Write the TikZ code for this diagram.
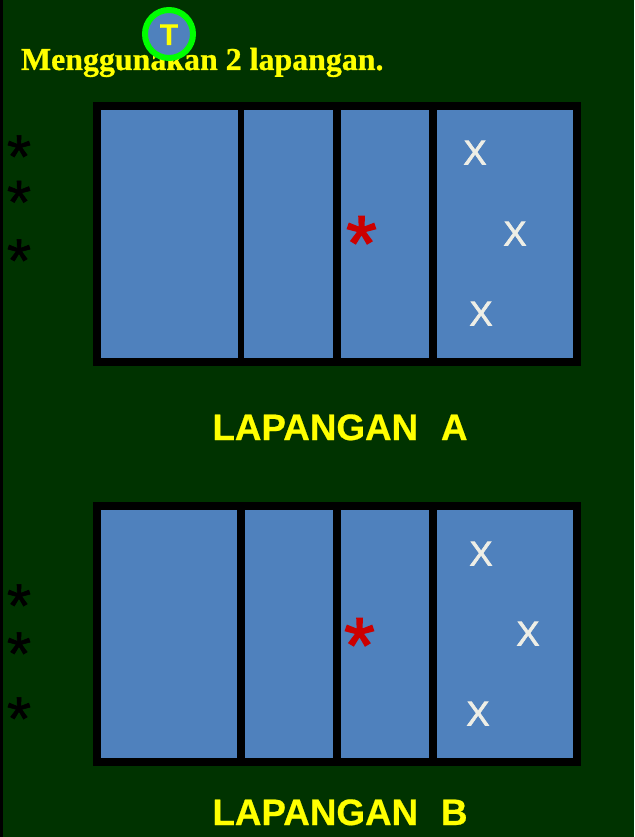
\documentclass[tikz,border=0pt]{standalone}
\usepackage{fontspec}
\setmainfont{Liberation Sans}[BoldFeatures={FakeBold=0.5}]
\newfontfamily\serifbold{Liberation Serif}[BoldFeatures={FakeBold=0.8}]
\newfontfamily\heavysans{Liberation Sans}[FakeBold=2.0]
\newfontfamily\midsans{Liberation Sans}[FakeBold=1.0]
\newfontfamily\fatsans{Liberation Sans}[FakeBold=2.0]
\definecolor{bgreen}{HTML}{003300}
\definecolor{court}{HTML}{4F81BD}
\definecolor{ringgreen}{HTML}{00FF00}
\definecolor{chalk}{HTML}{EEEEE6}
\definecolor{redstar}{HTML}{CC0000}
\definecolor{yel}{HTML}{FFFF00}
\newcommand{\px}[1]{\fontsize{#1pt}{#1pt}\selectfont}
\tikzset{
  x=1pt,y=-1pt,
  panel/.style={fill=court,draw=none},
  frame/.style={fill=black,draw=none},
  txt/.style={inner sep=0,outer sep=0,anchor=base},
  xmark/.style={txt,text=chalk,font=\heavysans\px{34.5}},
  blackstar/.style={txt,text=black,font=\midsans\px{62}},
  redast/.style={txt,text=redstar,font=\fatsans\px{78}},
  title/.style={txt,text=yel,font=\px{36.8}\bfseries},
  heading/.style={inner sep=0,outer sep=0,anchor=base west,text=yel,font=\serifbold\px{31.9}\bfseries},
}
\begin{document}
\begin{tikzpicture}
\useasboundingbox (0,0) rectangle (634,837);
\fill[bgreen] (0,0) rectangle (634,837);
\fill[black] (0,0) rectangle (3,837);

\node[heading] (head) at (21,70) {Menggunakan 2 lapangan.};
\node[circle,draw=ringgreen,line width=6pt,fill=court,minimum size=48pt,inner sep=0] (ring) at (169,34) {};
\node[txt,text=yel,font=\px{30}\bfseries] (teacher) at (169,45) {T};

% Court A
\fill[frame] (93,102) rectangle (581,366);
\fill[panel] (101,110) rectangle (238,358);
\fill[panel] (244,110) rectangle (333,358);
\fill[panel] (341,110) rectangle (429,358);
\fill[panel] (437,110) rectangle (573,358);
\node[xmark] (ax1) at (475,164.5) {X};
\node[xmark] (ax2) at (515,245.5) {X};
\node[xmark] (ax3) at (481,325.5) {X};
\node[redast] (ar) at (361.5,270) {*};
\node[blackstar] (as1) at (19,178) {*};
\node[blackstar] (as2) at (19,223.5) {*};
\node[blackstar] (as3) at (19,282) {*};
\node[title] (la) at (340,440) {LAPANGAN\hspace{0.62em}A};

% Court B
\fill[frame] (93,502) rectangle (581,766);
\fill[panel] (101,510) rectangle (237,758);
\fill[panel] (245,510) rectangle (333,758);
\fill[panel] (341,510) rectangle (429,758);
\fill[panel] (437,510) rectangle (573,758);
\node[xmark] (bx1) at (481,565.5) {X};
\node[xmark] (bx2) at (528,645.5) {X};
\node[xmark] (bx3) at (478,725.5) {X};
\node[redast] (br) at (359.5,672) {*};
\node[blackstar] (bs1) at (19,627) {*};
\node[blackstar] (bs2) at (19,675) {*};
\node[blackstar] (bs3) at (19,740) {*};
\node[title] (lb) at (340,825) {LAPANGAN\hspace{0.62em}B};
\end{tikzpicture}
\end{document}
